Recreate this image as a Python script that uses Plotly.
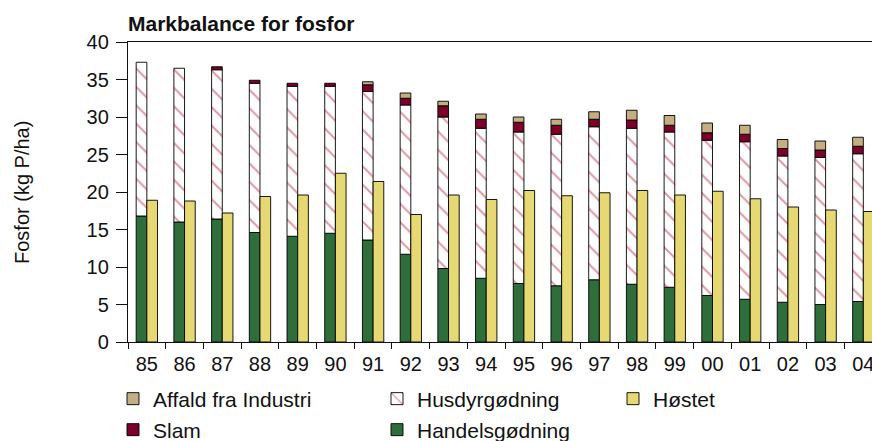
import numpy as np
import plotly.graph_objects as go

years = ["85", "86", "87", "88", "89", "90", "91", "92", "93", "94",
         "95", "96", "97", "98", "99", "00", "01", "02", "03", "04"]

handelsgodning = [16.8, 16.0, 16.4, 14.6, 14.1, 14.5, 13.6, 11.7, 9.8, 8.5,
                  7.8, 7.5, 8.3, 7.7, 7.3, 6.2, 5.7, 5.3, 5.0, 5.4]
husdyrgodning = [20.5, 20.5, 19.9, 19.9, 20.0, 19.6, 19.8, 19.9, 20.2, 20.0,
                 20.2, 20.2, 20.4, 20.8, 20.7, 20.7, 21.0, 19.5, 19.6, 19.7]
slam = [None, None, 0.4, 0.4, 0.4, 0.4, 0.9, 0.9, 1.5, 1.2,
        1.3, 1.2, 1.0, 1.1, 0.9, 1.0, 1.0, 1.0, 1.0, 1.0]
affald = [None, None, None, None, None, None, 0.4, 0.7, 0.6, 0.7,
          0.7, 0.8, 1.0, 1.3, 1.3, 1.3, 1.2, 1.2, 1.2, 1.2]
hostet = [18.9, 18.8, 17.2, 19.4, 19.6, 22.5, 21.4, 17.0, 19.6, 19.0,
          20.2, 19.5, 19.9, 20.2, 19.6, 20.1, 19.1, 18.0, 17.6, 17.4]

y_ticks = [0, 5, 10, 15, 20, 25, 30, 35, 40]

FONT = "Liberation Sans, Arial, Helvetica, sans-serif"
W = 872
H = 441
ML, MT, MB = 128, 42, 99

def arr(v):
    return np.array([np.nan if x is None else x for x in v], dtype=float)

h_arr = arr(handelsgodning)
hus_arr = arr(husdyrgodning)
slam_arr = arr(slam)

base_hus = h_arr
base_slam = h_arr + hus_arr
base_aff = base_slam + np.nan_to_num(slam_arr)

BW = 0.283
outline = dict(color="rgba(0,0,0,0.9)", width=1)

fig = go.Figure()

fig.add_trace(go.Bar(
    x=years, y=handelsgodning, name="Handelsgødning",
    width=BW, offset=-BW,
    marker=dict(color="#2e6e3b", line=outline),
    legend="legend5",
))
fig.add_trace(go.Bar(
    x=years, y=husdyrgodning, base=base_hus, name="Husdyrgødning",
    width=BW, offset=-BW,
    marker=dict(color="white", line=outline,
                pattern=dict(shape="\\", fgcolor="#c22e48", bgcolor="white",
                             size=13, solidity=0.15)),
    legend="legend2",
))
fig.add_trace(go.Bar(
    x=years, y=slam, base=base_slam, name="Slam",
    width=BW, offset=-BW,
    marker=dict(color="#7d0028", line=outline),
    legend="legend4",
))
fig.add_trace(go.Bar(
    x=years, y=affald, base=base_aff, name="Affald fra Industri",
    width=BW, offset=-BW,
    marker=dict(color="#c4ae84", line=outline),
    legend="legend",
))
fig.add_trace(go.Bar(
    x=years, y=hostet, name="Høstet",
    width=BW, offset=0,
    marker=dict(color="#e6d872", line=outline),
    legend="legend3",
))

def leg(xpx, ypx):
    return dict(
        xref="container", yref="container",
        x=xpx / W, y=1 - ypx / H,
        xanchor="left", yanchor="middle",
        bgcolor="rgba(0,0,0,0)", borderwidth=0,
        font=dict(family=FONT, size=21, color="#111"),
        orientation="v",
    )

plot_w = W - ML

fig.update_layout(
    width=W, height=H,
    margin=dict(l=ML, r=0, t=MT, b=MB, pad=0, autoexpand=False),
    paper_bgcolor="white", plot_bgcolor="white",
    barmode="overlay",
    showlegend=True,
    font=dict(family=FONT, size=20, color="#111"),
    title=dict(
        text="<b>Markbalance for fosfor</b>",
        font=dict(family=FONT, size=21, color="#111"),
        xref="paper", x=0, xanchor="left",
        yref="container", y=1 - 24 / H, yanchor="middle",
    ),
    legend=leg(113, 399),
    legend2=leg(377, 399),
    legend3=leg(613, 399),
    legend4=leg(113, 430),
    legend5=leg(377, 430),
    xaxis=dict(
        type="category",
        range=[-0.5, 19.23],
        automargin=False,
        showline=True, linecolor="#111", linewidth=1.3,
        mirror=True,
        ticks="outside", ticklen=6, tickcolor="#111", tickwidth=1.3,
        tickson="boundaries",
        tickangle=0,
        ticklabelstandoff=4,
        showgrid=False,
        tickfont=dict(family=FONT, size=20, color="#111"),
    ),
    yaxis=dict(
        range=[0, 40],
        automargin=False,
        tickvals=y_ticks,
        showline=True, linecolor="#111", linewidth=1.3,
        mirror=False,
        ticks="outside", ticklen=11, tickcolor="#111", tickwidth=1.3,
        ticklabelstandoff=3,
        showgrid=False, zeroline=False,
        tickfont=dict(family=FONT, size=20, color="#111"),
    ),
    annotations=[dict(
        text="Fosfor (kg P/ha)",
        xref="paper", yref="paper",
        x=(22 - ML) / plot_w, y=0.5,
        xanchor="center", yanchor="middle",
        textangle=-90, showarrow=False,
        font=dict(family=FONT, size=20, color="#111"),
    )],
)

fig.write_html("out.html", config={"displayModeBar": False},
               post_script="document.body.style.margin='0';")
